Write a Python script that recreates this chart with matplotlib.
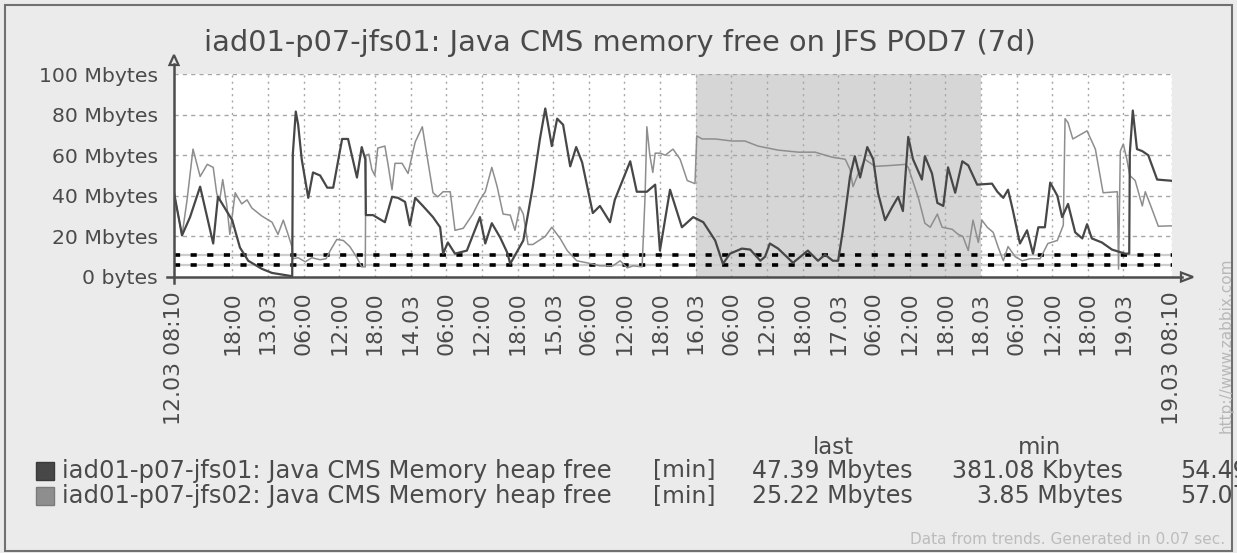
from datetime import datetime, timedelta

import matplotlib
matplotlib.use("Agg")
import matplotlib.pyplot as plt
from matplotlib.lines import Line2D
from matplotlib.patches import Polygon, Rectangle

plt.rcParams["font.family"] = ["DejaVu Sans"]

# canvas size in pixels (dpi 100)
W, H = 1237, 553

start = datetime(2024, 3, 12, 8, 10)
period_hours = 168

# free heap, hours since 12.03 08:10 -> Mbytes
jfs01_hours = [0.0, 1.35, 2.7, 4.4, 6.6, 7.4, 9.8, 11.1, 12.5, 14.8,
               16.5, 19.9, 20.0, 20.5, 20.9, 21.5, 22.6, 23.4, 24.6, 25.8,
               26.8, 28.3, 29.3, 30.8, 31.6, 32.2, 32.3, 33.5, 35.5, 36.7,
               37.7, 38.9, 39.7, 40.6, 41.9, 43.6, 44.8, 45.3, 46.1, 47.3,
               49.3, 51.5, 52.4, 53.5, 54.9, 56.1, 56.6, 58.8, 60.4, 61.6,
               62.5, 63.6, 64.5, 65.5, 66.7, 67.7, 68.7, 70.5, 71.7, 73.4,
               74.2, 76.8, 77.9, 79.6, 81.0, 81.8, 83.5, 85.5, 87.4, 89.1,
               91.1, 92.4, 93.6, 95.6, 97.0, 98.7, 99.5, 100.3, 101.7, 104.2,
               106.7, 108.4, 109.6, 110.9, 111.8, 112.6, 113.8, 114.6, 115.5, 116.7,
               117.7, 118.5, 119.7, 120.9, 121.9, 122.7, 123.6, 124.4, 125.9, 126.4,
               127.6, 128.5, 129.5, 130.3, 131.5, 132.7, 133.7, 135.2, 137.7, 138.6,
               139.6, 140.4, 141.2, 142.4, 143.6, 144.6, 145.5, 146.6, 147.5, 148.7,
               149.5, 150.5, 151.7, 152.9, 153.7, 154.5, 156.2, 157.9, 160.1, 160.8,
               160.9, 161.4, 162.1, 163.0, 164.0, 165.5, 168.0]
jfs01_mb = [41.5, 20.5, 29.5, 44.5, 16.5, 39.5, 28, 14.5, 8, 4,
            2, 0.38, 60.5, 81.5, 75, 58, 39, 51.5, 50, 44,
            44, 68, 68, 49, 64, 58, 30.5, 30.5, 27, 39.5,
            39, 37, 25.5, 39, 35, 29.5, 24.5, 11.5, 17, 11.5,
            13, 29.5, 16.5, 26.5, 19.5, 12, 6.5, 18, 44.5, 68,
            83, 64.5, 78, 75, 54.5, 64, 56.5, 31.5, 35, 27,
            38, 57, 42, 42, 45.5, 13, 43, 24.5, 29.5, 27,
            18, 6.5, 11.5, 14, 13.5, 8, 10, 16.5, 14, 7,
            13, 8, 11, 8, 8, 23, 49.5, 59.5, 49, 64,
            58, 41.5, 28, 34.5, 39.5, 32.5, 69, 58, 48, 59.5,
            51, 36.5, 35, 54, 41.5, 57, 55, 45.5, 46, 42,
            39, 43, 33, 16.5, 23, 11.5, 24.5, 24.5, 46.5, 40,
            29.5, 36, 22, 19, 26, 19, 17, 13.5, 11.5, 11.5,
            61, 82, 63, 62, 60, 48, 47.39]

jfs02_hours = [0.0, 1.35, 2.2, 3.2, 4.4, 5.6, 6.6, 7.2, 7.7, 8.2,
               8.9, 9.4, 10.3, 11.4, 12.3, 13.1, 14.8, 16.5, 17.5, 18.4,
               19.2, 19.9, 20.0, 20.9, 22.1, 23.2, 24.6, 25.6, 26.3, 27.4,
               28.5, 29.6, 30.8, 31.6, 32.2, 32.3, 32.8, 33.3, 33.8, 34.3,
               35.5, 36.0, 36.7, 37.2, 38.4, 39.4, 40.6, 41.8, 42.6, 43.6,
               44.4, 45.3, 46.5, 47.3, 48.7, 50.3, 51.5, 52.4, 53.5, 54.4,
               55.4, 56.6, 57.4, 58.2, 58.8, 59.6, 60.4, 62.5, 63.6, 65.0,
               66.2, 67.8, 69.5, 71.7, 73.9, 75.1, 76.3, 77.3, 78.8, 79.3,
               79.6, 80.1, 80.6, 81.0, 81.8, 82.7, 84.0, 85.2, 86.4, 87.7,
               88.0, 88.9, 91.1, 93.9, 96.1, 98.3, 101.7, 105.1, 107.9, 110.8,
               113.0, 113.8, 114.3, 115.2, 116.3, 118.0, 120.9, 123.1, 123.6, 124.4,
               125.3, 126.4, 127.3, 128.5, 129.3, 131.0, 132.0, 132.8, 133.7, 134.5,
               135.4, 136.0, 136.9, 137.9, 138.7, 139.6, 140.4, 141.6, 142.8, 144.1,
               145.8, 147.1, 148.7, 149.7, 150.0, 150.5, 151.3, 153.7, 155.1, 156.4,
               158.8, 159.0, 159.3, 159.8, 160.4, 160.9, 161.8, 163.0, 163.5, 164.3,
               165.7, 168.0]
jfs02_mb = [41.5, 20.5, 38, 63, 49.5, 55.5, 54, 41, 38, 48,
            35, 21, 41.5, 36, 38, 34, 30, 27, 21, 28,
            21, 14.5, 9, 9.5, 7.5, 9.5, 8.5, 9, 13, 18.5,
            18, 15, 9.5, 5, 5, 60, 60.5, 53, 50, 63.5,
            64.5, 56, 43, 56, 56, 51, 66.5, 74, 59.5, 41.5,
            39.5, 42, 42, 23, 24, 31, 38, 42, 54, 44.5,
            31, 30.5, 23, 34.5, 31, 16, 16, 20, 24.5, 19,
            13, 8, 7, 5.5, 5.5, 8, 4.5, 5.5, 5, 40,
            74, 60, 51.5, 61, 61, 60, 63, 58, 47.5, 46,
            69.5, 68, 68, 67, 67, 64.5, 62.5, 61.5, 61.5, 59,
            58, 53, 44.5, 51, 58, 54.5, 55, 55.5, 54, 47,
            39, 26.5, 24.5, 31, 24.5, 23.5, 21, 20, 13, 28,
            17, 28, 24.5, 22, 15, 8, 15, 10, 8, 9,
            9, 16.5, 18, 25.5, 78, 76, 68, 72, 63, 41.5,
            42, 3.85, 62, 65.5, 58, 50, 47.5, 35, 42, 36,
            25, 25.22]

trigger_levels = [11.0, 6.0]
shade_from, shade_to = datetime(2024, 3, 16), datetime(2024, 3, 18)

y_ticks = [0, 20, 40, 60, 80, 100]
y_labels = ["0 bytes", "20 Mbytes", "40 Mbytes", "60 Mbytes", "80 Mbytes", "100 Mbytes"]

legend_names = ["iad01-p07-jfs01: Java CMS Memory heap free",
                "iad01-p07-jfs02: Java CMS Memory heap free"]
legend_last = ["47.39 Mbytes", "25.22 Mbytes"]
legend_min = ["381.08 Kbytes", "3.85 Mbytes"]
legend_avg = ["54.49", "57.07"]

BG = "#ebebeb"
TXT = "#4a4a4a"
AXIS = "#4d4d4d"
GRID = "#a6a6a6"
DARK = "#474747"
LIGHT = "#8e8e8e"


def hours(dt):
    return (dt - start).total_seconds() / 3600


# 6-hourly ticks between the two end stamps
x_ticks = [0]
x_labels = [start.strftime("%d.%m %H:%M")]
t = datetime(2024, 3, 12, 18)
while hours(t) < period_hours - 6:
    x_ticks.append(hours(t))
    x_labels.append(t.strftime("%d.%m") if t.hour == 0 else t.strftime("%H:%M"))
    t += timedelta(hours=6)
end = start + timedelta(hours=period_hours)
x_ticks.append(period_hours)
x_labels.append(end.strftime("%d.%m %H:%M"))

fig = plt.figure(figsize=(W / 100, H / 100), dpi=100, facecolor=BG)

# plot box in pixels
L, R, T, B = 174, 1172, 74, 277
ax = fig.add_axes([L / W, 1 - B / H, (R - L) / W, (B - T) / H])
ax.set_facecolor("white")
ax.set_xlim(0, period_hours)
ax.set_ylim(0, 100)
for s in ax.spines.values():
    s.set_visible(False)

ax.axvspan(hours(shade_from), hours(shade_to), color="#d6d6d6", lw=0, zorder=0.5)

for y in y_ticks[1:]:
    ax.axhline(y, color=GRID, lw=1.0, linestyle=(0, (3, 3)), zorder=1)
for xt in x_ticks[1:]:
    ax.axvline(xt, color=GRID, lw=1.0, linestyle=(0, (1.5, 3)), zorder=1)

# trigger thresholds
for lvl in trigger_levels:
    ax.axhline(lvl, color="#cdcdcd", lw=1.6, zorder=2)
    ax.axhline(lvl, color="black", lw=2.6, dashes=[1.7, 2.9],
               dash_capstyle="butt", zorder=3)

ax.plot(jfs02_hours, jfs02_mb, color=LIGHT, lw=1.1, zorder=4)
ax.plot(jfs01_hours, jfs01_mb, color=DARK, lw=1.6, zorder=5)

ax.set_yticks(y_ticks, y_labels)
ax.tick_params(axis="y", length=0, pad=11.5, labelsize=14.7, labelcolor=TXT)
ax.set_xticks(x_ticks, x_labels, rotation=90)
ax.tick_params(axis="x", length=0, pad=10.5, labelsize=15.8, labelcolor=TXT)


def fx(x):
    return x / W


def fy(y):
    return 1 - y / H


# axis lines with hollow arrow heads
fig.add_artist(Line2D([fx(L), fx(L)], [fy(B + 6), fy(T - 10)], color=AXIS, lw=1.8))
fig.add_artist(Line2D([fx(L - 7), fx(R + 10)], [fy(B), fy(B)], color=AXIS, lw=1.8))
fig.add_artist(Polygon([[fx(L), fy(T - 19)], [fx(L - 4.5), fy(T - 9)], [fx(L + 4.5), fy(T - 9)]],
                       closed=True, facecolor=BG, edgecolor=AXIS, lw=1.6))
fig.add_artist(Polygon([[fx(R + 21), fy(B)], [fx(R + 9), fy(B - 4.5)], [fx(R + 9), fy(B + 4.5)]],
                       closed=True, facecolor=BG, edgecolor=AXIS, lw=1.6))

fig.text(fx(620), fy(43), "iad01-p07-jfs01: Java CMS memory free on JFS POD7 (7d)",
         ha="center", va="center", fontsize=20.8, color=TXT)

# legend table
fig.text(fx(833), fy(447), "last", ha="center", va="center", fontsize=16.5, color=TXT)
fig.text(fx(1040), fy(447), "min", ha="center", va="center", fontsize=16.5, color=TXT)
for i, col in enumerate([DARK, LIGHT]):
    yc = 471 + 25 * i
    fig.add_artist(Rectangle((fx(36), fy(yc + 9)), 18 / W, 18 / H,
                             facecolor=col, edgecolor="#3a3a3a" if i == 0 else "#7a7a7a", lw=1))
    fig.text(fx(62), fy(yc), legend_names[i], ha="left", va="center", fontsize=17.5, color=TXT)
    fig.text(fx(653), fy(yc), "[min]", ha="left", va="center", fontsize=16.8, color=TXT)
    fig.text(fx(913), fy(yc), legend_last[i], ha="right", va="center", fontsize=17, color=TXT)
    fig.text(fx(1123), fy(yc), legend_min[i], ha="right", va="center", fontsize=17, color=TXT)
    # the avg column runs into the frame edge
    fig.text(fx(1180), fy(yc), legend_avg[i], ha="left", va="center", fontsize=17, color=TXT)

fig.text(fx(1226), fy(345), "http://www.zabbix.com", rotation=90, ha="center", va="center",
         fontsize=11, color="#b8b8b8")
fig.text(fx(1225), fy(540), "Data from trends. Generated in 0.07 sec.", ha="right", va="center",
         fontsize=11, color="#bcbcbc")

# outer frame
fig.add_artist(Rectangle((fx(5), fy(551)), 1227 / W, 546 / H, fill=False,
                         edgecolor="#707070", lw=1.5))

fig.savefig("out.png", dpi=100, facecolor=BG)
